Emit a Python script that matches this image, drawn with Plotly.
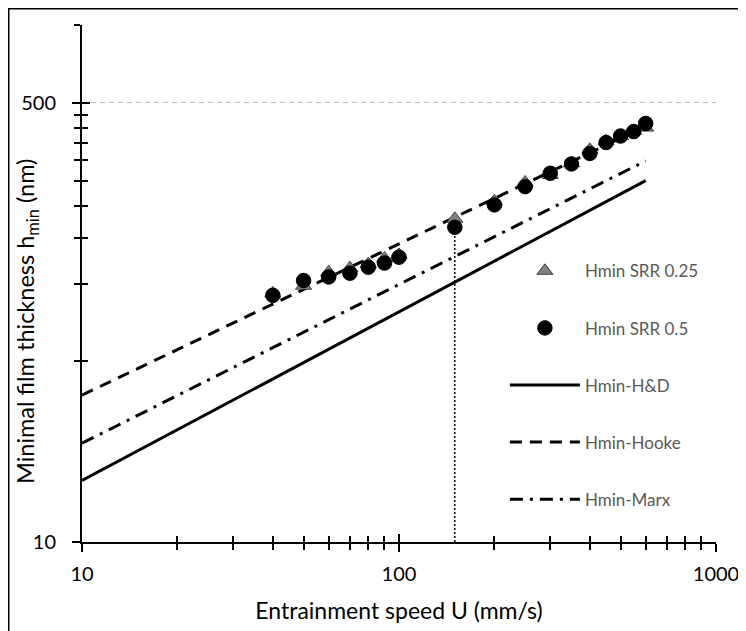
import plotly.graph_objects as go

# ---- data ----
speed = [40, 50, 60, 70, 80, 90, 100, 150, 200, 250, 300, 350, 400, 450, 500, 550, 600]
h_srr025 = [91.5, 98, 110.5, 114.6, 119, 125, 129, 178, 208, 246, 263, 292, 329, 355, 372, 390, 401]
h_srr05 = [90, 102.7, 106, 109.6, 115.6, 120, 126.4, 165, 201.4, 237, 267, 290, 318.5, 351, 372, 387, 416]

model_x = [10, 600]
h_hd = [17.3, 250]
h_hooke = [37, 406]
h_marx = [24.1, 298]

ref_x = [150, 150]
ref_y = [10, 165]

x_major = [10, 100, 1000]
x_minor = [20, 30, 40, 50, 60, 70, 80, 90, 200, 300, 400, 500, 600, 700, 800, 900]
y_major = [10, 500]
y_minor = [50, 100, 150, 200, 250, 300, 350, 400, 450, 1000]

FONT = "Lato"
W, H = 738, 623          # page body has an 8px margin
L, R, T, B = 74, 30, 17, 89
PW, PH = W - L - R, H - T - B

fig = go.Figure()

fig.add_trace(go.Scatter(x=ref_x, y=ref_y, mode="lines", showlegend=False, hoverinfo="skip",
                         line=dict(color="black", width=1.5, dash="2px,2px")))
fig.add_trace(go.Scatter(x=model_x, y=h_hd, mode="lines", name="Hmin-H&D", legendrank=3,
                         legendgroup="c", line=dict(color="black", width=3)))
fig.add_trace(go.Scatter(x=model_x, y=h_hooke, mode="lines", name="Hmin-Hooke", legendrank=4,
                         legendgroup="d", line=dict(color="black", width=3, dash="12px,8px")))
fig.add_trace(go.Scatter(x=model_x, y=h_marx, mode="lines", name="Hmin-Marx", legendrank=5,
                         legendgroup="e", line=dict(color="black", width=3, dash="13px,7px,3px,7px")))
fig.add_trace(go.Scatter(x=speed, y=h_srr025, mode="markers", name="Hmin SRR 0.25", legendrank=1,
                         legendgroup="a",
                         marker=dict(symbol="triangle-up", size=14, color="#808080",
                                     line=dict(color="#404040", width=1))))
fig.add_trace(go.Scatter(x=speed, y=h_srr05, mode="markers", name="Hmin SRR 0.5", legendrank=2,
                         legendgroup="b",
                         marker=dict(symbol="circle", size=14.5, color="black",
                                     line=dict(color="black", width=1))))
# helper trace so the overlay axes (inner half of the cross ticks) are drawn
fig.add_trace(go.Scatter(x=[100], y=[100], xaxis="x2", yaxis="y2", mode="markers",
                         marker=dict(opacity=0), showlegend=False, hoverinfo="skip"))

axis_common = dict(type="log", range=[1, 3], showgrid=False, zeroline=False, automargin=False)

fig.update_layout(
    width=W, height=H,
    margin=dict(l=L, r=R, t=T, b=B),
    paper_bgcolor="white", plot_bgcolor="white",
    font=dict(family=FONT, color="black"),
    xaxis=dict(**axis_common, tickvals=x_major, ticktext=[str(v) for v in x_major],
               ticks="outside", ticklen=8, tickwidth=1.5, tickcolor="black",
               minor=dict(tickvals=x_minor, ticks="outside", ticklen=6, tickwidth=1.5, tickcolor="black"),
               showline=True, linecolor="black", linewidth=2,
               tickfont=dict(size=20, color="black"), ticklabelstandoff=5,
               title=dict(text="Entrainment speed U (mm/s)", font=dict(size=23, color="black"), standoff=19)),
    xaxis2=dict(**axis_common, overlaying="x", anchor="y", side="bottom", tickvals=x_major,
                ticks="inside", ticklen=8, tickwidth=1.5, tickcolor="black",
                minor=dict(tickvals=x_minor, ticks="inside", ticklen=6, tickwidth=1.5, tickcolor="black"),
                showticklabels=False, showline=False),
    yaxis=dict(type="log", range=[1, 3], zeroline=False, automargin=False, tickvals=y_major,
               ticktext=[str(v) for v in y_major],
               ticks="outside", ticklen=8, tickwidth=1.5, tickcolor="black",
               minor=dict(tickvals=y_minor, ticks="outside", ticklen=6, tickwidth=1.5, tickcolor="black"),
               showgrid=True, gridcolor="#BFBFBF", griddash="5px,4px", gridwidth=1.2,
               showline=True, linecolor="black", linewidth=2,
               tickfont=dict(size=20, color="black"), ticklabelstandoff=12),
    yaxis2=dict(**axis_common, overlaying="y", anchor="x", side="left", tickvals=y_major,
                ticks="inside", ticklen=8, tickwidth=1.5, tickcolor="black",
                minor=dict(tickvals=y_minor, ticks="inside", ticklen=6, tickwidth=1.5, tickcolor="black"),
                showticklabels=False, showline=False),
    legend=dict(x=0.667, y=0.5585, xanchor="left", yanchor="top", bgcolor="rgba(0,0,0,0)",
                font=dict(family=FONT, size=17, color="#595959"),
                itemwidth=70, tracegroupgap=32),
    annotations=[dict(text="Minimal film thickness h<sub>min</sub> (nm)", textangle=-90,
                      xref="paper", yref="paper", xanchor="center", yanchor="middle",
                      x=(19 - L) / PW, y=1 - (314 - T) / PH,
                      showarrow=False, font=dict(size=23.5, color="black"))],
    shapes=[dict(type="rect", xref="paper", yref="paper",
                 x0=(0.75 - L) / PW, x1=(W + 30 - L) / PW,
                 y0=1 - (H + 30 - T) / PH, y1=1 + (T - 0.75) / PH,
                 line=dict(color="black", width=1.5))],
)

fig.write_html("out.html")
